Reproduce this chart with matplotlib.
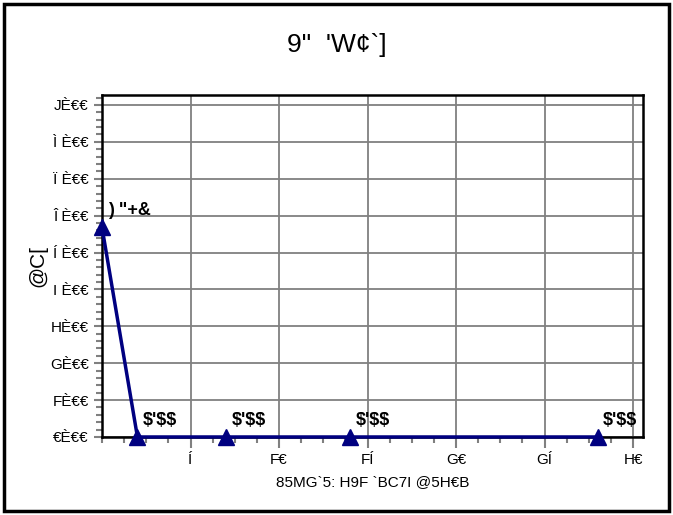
import matplotlib
matplotlib.use("Agg")
import matplotlib.pyplot as plt
from matplotlib.patches import Rectangle
from matplotlib.ticker import MultipleLocator

plt.rcParams['font.family'] = ['Liberation Sans', 'DejaVu Sans']

# values
days = [0, 2, 7, 14, 28]
values = [5.68, 0.0, 0.0, 0.0, 0.0]
point_labels = [') "+&', "$'$$", "$'$$", "$'$$", "$'$$"]

x_ticks = [5, 10, 15, 20, 25, 30]
x_tick_labels = ['Í', 'F€', 'FÍ', 'G€', 'GÍ', 'H€']
y_ticks = [0, 1, 2, 3, 4, 5, 6, 7, 8, 9]
y_tick_labels = ['€È€€', 'FÈ€€', 'GÈ€€', 'HÈ€€', 'I È€€', 'Í È€€', 'Î È€€', 'Ï È€€', 'Ì È€€', 'JÈ€€']

title = '9"  \'W¢`]'
x_label = "85MG`5: H9F `BC7I @5H€B"
y_label = '@C['

fig = plt.figure(figsize=(6.73, 5.15), dpi=100)
ax = fig.add_axes([0.1516, 0.1515, 0.8038, 0.664])

ax.plot(days, values, color='#000080', linewidth=2.5, marker='^', markersize=11,
        clip_on=False, zorder=5)

for x, y, lab in zip(days, values, point_labels):
    ax.annotate(lab, (x, y), xytext=(4, 6), textcoords='offset points',
                ha='left', va='bottom', fontsize=13, fontweight='bold', zorder=6)

ax.set_xlim(0, 30.56)
ax.set_ylim(0, 9.27)
ax.set_xticks(x_ticks)
ax.set_xticklabels(x_tick_labels, fontsize=11)
ax.set_yticks(y_ticks)
ax.set_yticklabels(y_tick_labels, fontsize=11)
ax.xaxis.set_minor_locator(MultipleLocator(1.25))
ax.yaxis.set_minor_locator(MultipleLocator(0.2))

ax.tick_params(axis='both', which='major', color='#808080', width=1.5)
ax.tick_params(axis='x', which='major', length=8)
ax.tick_params(axis='y', which='major', length=6)
ax.tick_params(axis='both', which='minor', color='#808080', width=1.5, length=4)

ax.grid(True, which='major', color='#808080', linewidth=1.3)
ax.set_axisbelow(True)
for s in ax.spines.values():
    s.set_linewidth(1.8)
    s.set_color('black')

fig.suptitle(title, fontsize=19, x=0.5, y=1 - 45 / 515, va='center')
ax.set_xlabel(x_label, fontsize=11, labelpad=6)
ax.set_ylabel(y_label, fontsize=15, labelpad=2)

fig.patches.append(Rectangle((4 / 673, 4 / 515), 665 / 673, 507 / 515,
                             transform=fig.transFigure, fill=False,
                             edgecolor='black', linewidth=2.5))

fig.savefig('out.png', dpi=100)
